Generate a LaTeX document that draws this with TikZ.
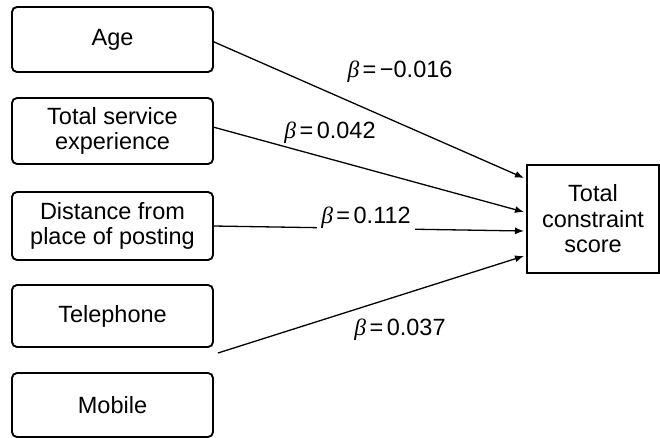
\documentclass[tikz,border=0pt]{standalone}
\usepackage{fontspec}
\setmainfont{Liberation Sans}
\newfontfamily\greekit{Liberation Serif}[ItalicFont={Liberation Serif Italic}]
\usetikzlibrary{arrows.meta}
\newcommand{\betalab}[1]{{\greekit\itshape β}\kern3.5pt=\kern3.5pt#1}
\begin{document}
\begin{tikzpicture}[x=1pt,y=-1pt,
  every node/.style={font=\fontsize{23.5}{25.5}\selectfont},
  var/.style={draw, line width=1.9pt, rounded corners=5pt, align=center,
    minimum width=201pt, inner sep=0pt, outer sep=0pt},
  outcome/.style={draw, line width=1.6pt, align=center,
    minimum width=132pt, minimum height=108pt, inner sep=0pt, outer sep=0pt},
  path/.style={line width=1.3pt, -{Latex[length=9pt,width=7pt]}},
  coef/.style={inner sep=0pt}]
\useasboundingbox (0,0) rectangle (660,438);

% predictor boxes
\node[var, minimum height=65pt] (age) at (112.5,39.5) {Age};
\node[var, minimum height=66pt] (svc) at (112.5,131) {Total service\\experience};
\node[var, minimum height=68pt] (dist) at (112.5,226) {Distance from\\place of posting};
\node[var, minimum height=62pt] (tel) at (112.5,316) {Telephone};
\node[var, minimum height=64pt] (mob) at (112.5,405) {Mobile};

% outcome box
\node[outcome] (tcs) at (593,219) {Total\\constraint\\score};

% arrow ends on the outcome box
\coordinate (e1) at ([yshift=41pt]tcs.west);
\coordinate (e2) at ([yshift=7pt]tcs.west);
\coordinate (e3) at ([yshift=-12pt]tcs.west);
\coordinate (e4) at ([yshift=-37pt]tcs.west);
\coordinate (s1) at ([yshift=-2pt]age.east);
\coordinate (s2) at ([yshift=4pt]svc.east);
\coordinate (s4) at ([xshift=5pt,yshift=-6pt]tel.south east);

% paths
\draw[path] (s1) -- ([xshift=-3pt]e1);
\draw[path] (s2) -- ([xshift=-3pt]e2);
\draw[path] (dist.east) -- ([xshift=-3pt]e3);
\draw[path] (s4) -- ([xshift=-3pt]e4);

% coefficients
\node[coef] (b1) at (400,72) {\betalab{−0.016}};
\node[coef] (b2) at (330,133) {\betalab{0.042}};
\node[coef, fill=white, inner xsep=4pt, inner ysep=3pt] (b3) at (366,218) {\betalab{0.112}};
\node[coef] (b4) at (400,330) {\betalab{0.037}};
\end{tikzpicture}
\end{document}
